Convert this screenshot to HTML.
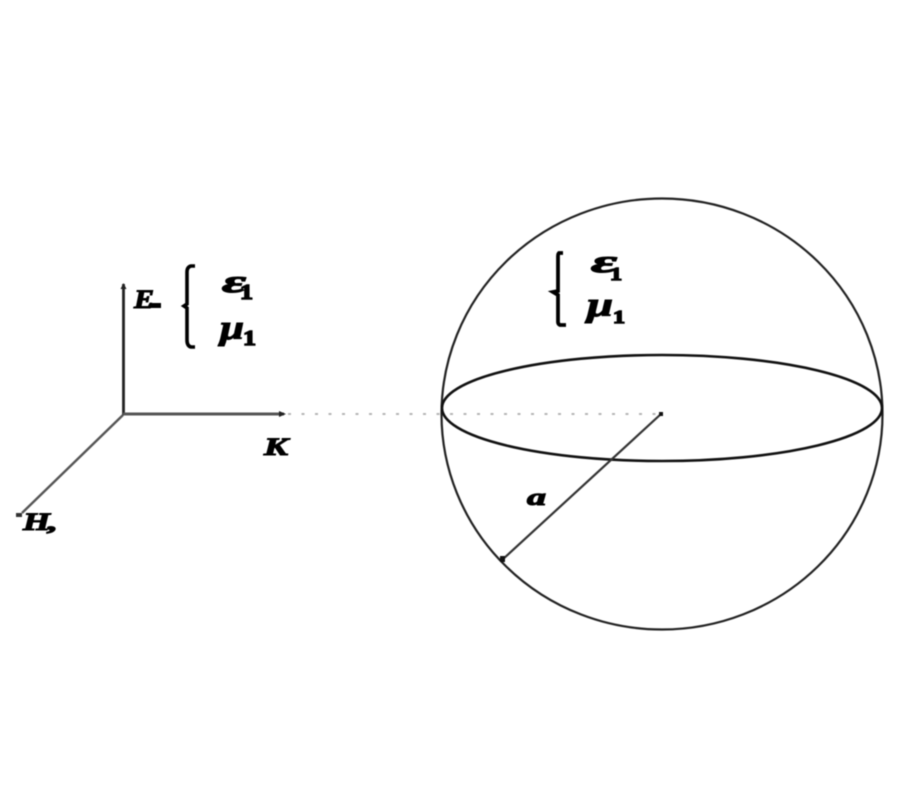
<!DOCTYPE html>
<html>
<head>
<meta charset="utf-8">
<style>
html,body{margin:0;padding:0;background:#fff;}
svg{display:block;filter:blur(.45px);}
text{font-family:"Liberation Serif",serif;font-weight:bold;font-style:italic;fill:#000;stroke:#000;stroke-width:1.1px;}
text.s{font-style:normal;stroke-width:1.4px;}
</style>
</head>
<body>
<svg width="900" height="800" viewBox="0 0 900 800" xmlns="http://www.w3.org/2000/svg">
<rect width="900" height="800" fill="#fff"/>
<!-- sphere -->
<ellipse cx="662" cy="414" rx="220.5" ry="215.5" fill="none" stroke="#222" stroke-width="2.200"/>
<ellipse cx="662" cy="408" rx="220" ry="53" fill="none" stroke="#111" stroke-width="2.600"/>
<!-- dotted axis -->
<line x1="288" y1="414" x2="660" y2="414" stroke="#b5b5b5" stroke-width="2" stroke-dasharray="3 10.5"/>
<!-- radius -->
<line x1="661" y1="414" x2="502" y2="560" stroke="#333" stroke-width="2.200"/>
<rect x="659" y="412" width="4" height="4" fill="#111"/>
<rect x="500" y="556" width="5" height="6" fill="#111"/>
<!-- axes -->
<line x1="123.500" y1="415" x2="123.500" y2="284" stroke="#222" stroke-width="2.800"/>
<line x1="123" y1="414" x2="284" y2="414" stroke="#555" stroke-width="3"/>
<line x1="123" y1="415" x2="22" y2="513" stroke="#555" stroke-width="2.400"/>
<polygon points="123.500,283 120.500,289 126.500,289" fill="#222"/>
<polygon points="286,414 279,411 279,417" fill="#222"/>
<rect x="16" y="513" width="6" height="4" fill="#333"/>
<!-- left brace -->
<path d="M195 266 H191 Q187 267 187 272 V304 L184 306 L187 308 V340 Q187 346 191 347 H195" fill="none" stroke="#000" stroke-width="3.600"/>
<!-- right brace -->
<path d="M563 253 H559 Q558 254 558 256 V291 L553 292 L558 295 V322 Q558 324 560 325 H566" fill="none" stroke="#000" stroke-width="3.800"/>
<!-- labels -->
<text x="134" y="308" font-size="26" textLength="20" lengthAdjust="spacingAndGlyphs">E</text>
<rect x="150" y="303" width="11" height="5" fill="#000"/>
<text x="222" y="292" font-size="32" textLength="24" lengthAdjust="spacingAndGlyphs">ε</text>
<text class="s" x="240" y="299" font-size="21" textLength="13" lengthAdjust="spacingAndGlyphs">1</text>
<text x="220" y="339" font-size="34" textLength="24" lengthAdjust="spacingAndGlyphs">μ</text>
<text class="s" x="243" y="345" font-size="21" textLength="13" lengthAdjust="spacingAndGlyphs">1</text>
<text x="264" y="455" font-size="25" textLength="24" lengthAdjust="spacingAndGlyphs">K</text>
<text x="23" y="530" font-size="25" textLength="27" lengthAdjust="spacingAndGlyphs">H</text>
<text x="48" y="530" font-size="22" textLength="10" lengthAdjust="spacingAndGlyphs">,</text>
<text x="591" y="272" font-size="32" textLength="26" lengthAdjust="spacingAndGlyphs">ε</text>
<text class="s" x="610" y="280" font-size="18" textLength="12" lengthAdjust="spacingAndGlyphs">1</text>
<text x="587" y="316" font-size="34" textLength="26" lengthAdjust="spacingAndGlyphs">μ</text>
<text class="s" x="613" y="323" font-size="18" textLength="12" lengthAdjust="spacingAndGlyphs">1</text>
<text x="527" y="505" font-size="24" textLength="19" lengthAdjust="spacingAndGlyphs">a</text>
</svg>
</body>
</html>
